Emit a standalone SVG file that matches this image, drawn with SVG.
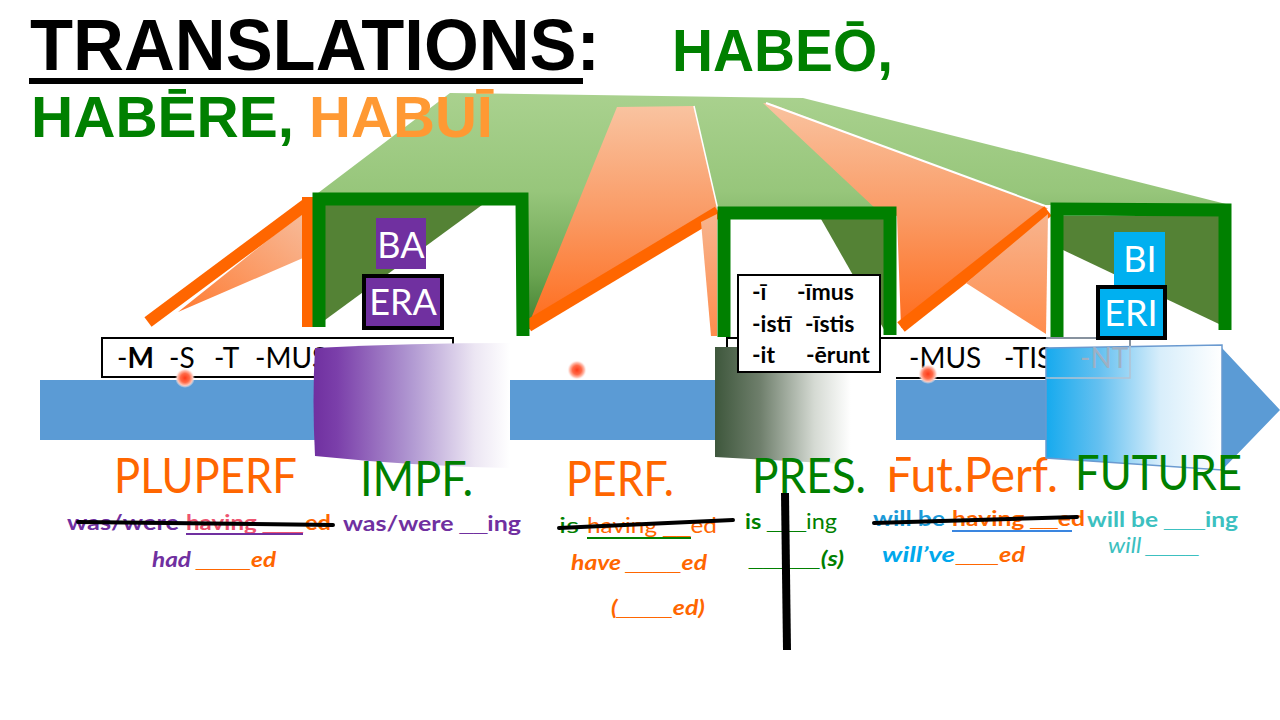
<svg xmlns="http://www.w3.org/2000/svg" width="1280" height="720" viewBox="0 0 1280 720">
<defs>
<linearGradient id="gGreen" gradientUnits="userSpaceOnUse" x1="0" y1="95" x2="0" y2="335">
<stop offset="0" stop-color="#a9d18e"/><stop offset="0.4" stop-color="#97c67b"/><stop offset="0.75" stop-color="#6aa451"/><stop offset="1" stop-color="#3b7a2b"/>
</linearGradient>
<linearGradient id="gFan" x1="0" y1="0" x2="0" y2="1">
<stop offset="0" stop-color="#f9c3a0"/><stop offset="0.5" stop-color="#fa9a64"/><stop offset="1" stop-color="#ff6c1c"/>
</linearGradient>
<linearGradient id="gWedge" x1="1" y1="0" x2="0" y2="1">
<stop offset="0" stop-color="#f7bb9a"/><stop offset="1" stop-color="#ff7b32"/>
</linearGradient>
<linearGradient id="gStrip" x1="0" y1="0" x2="0" y2="1">
<stop offset="0" stop-color="#f7b48e"/><stop offset="1" stop-color="#ff8d4d"/>
</linearGradient>
<linearGradient id="gPurple" x1="0" y1="0" x2="1" y2="0">
<stop offset="0" stop-color="#7030a0"/><stop offset="0.12" stop-color="#7b3faa"/><stop offset="0.5" stop-color="#b199d2"/><stop offset="0.82" stop-color="#ece6f3"/><stop offset="1" stop-color="#ffffff"/>
</linearGradient>
<linearGradient id="gPres" x1="0" y1="0" x2="1" y2="0">
<stop offset="0" stop-color="#3e573c"/><stop offset="0.25" stop-color="#6f7f6c"/><stop offset="0.55" stop-color="#d5dad3"/><stop offset="0.75" stop-color="#ffffff"/><stop offset="1" stop-color="#ffffff"/>
</linearGradient>
<linearGradient id="gFut" x1="0" y1="0" x2="1" y2="0">
<stop offset="0" stop-color="#16aaee"/><stop offset="0.3" stop-color="#64c0f0"/><stop offset="0.65" stop-color="#d8eefb"/><stop offset="1" stop-color="#ffffff"/>
</linearGradient>
<radialGradient id="gDot">
<stop offset="0" stop-color="#ff3a18"/><stop offset="0.45" stop-color="#ff6a48"/><stop offset="0.75" stop-color="#ffc4b6"/><stop offset="1" stop-color="#ffffff" stop-opacity="0"/>
</radialGradient>
</defs>
<style>
.t{font-family:Lato,'Liberation Sans',sans-serif}
.tt{font-family:'Liberation Sans',Arial,sans-serif;font-weight:bold}
.u{font-family:'Liberation Sans',Arial,sans-serif}
.b{font-weight:bold}
.i{font-style:italic}
.br{fill:none;stroke:#008000;stroke-width:13;stroke-linejoin:miter}
.ol{stroke:#ff6600;stroke-width:12;fill:none}
.dk{fill:#548235}
.strike{stroke:#000;stroke-width:4;stroke-linecap:round}
.box{fill:#fff;stroke:#000;stroke-width:2}
.lab{font-size:48px}
.sm{font-size:21px}
.end{font-size:28px;fill:#000}
.stem{font-size:36px;fill:#fff;text-anchor:middle}
.grn{fill:#008000}
.org{fill:#ff6600}
.pur{fill:#7030a0}
.tq{fill:#3cc0c0}
.lb{fill:#00a8ec}
</style>

<g id="ribbons">
<polygon points="318,193 450,93 803,98 1230,205 1050,205 893,210 717,210 528,330 528,193" fill="url(#gGreen)"/>
<polygon points="617,107 694,106 718,211 528,326" fill="url(#gFan)"/>
<line x1="694" y1="106" x2="718" y2="210" stroke="#fff" stroke-width="1.5"/>
<line class="ol" x1="528" y1="326" x2="718" y2="212" stroke-width="11"/>
<polygon points="701,222 717,214 717,336 711,336" fill="url(#gStrip)"/>
<polygon points="763,103 772,104 1048,208 901,328 897,216 877,210" fill="url(#gFan)"/>
<line x1="766" y1="103" x2="1048" y2="207" stroke="#fff" stroke-width="2"/>
<line class="ol" x1="901" y1="327" x2="1048" y2="211"/>
<polygon points="966,283 1048,214 1046,334" fill="url(#gStrip)"/>
<polygon points="178,312 303,212 303,258" fill="url(#gWedge)"/>
<line class="ol" x1="148" y1="322" x2="308" y2="203"/>
<rect x="302" y="197" width="12" height="130" fill="#ff6600"/>
</g>

<g id="brackets">
<polygon class="dk" points="325,205 482,205 325,320"/>
<polygon class="dk" points="821,219 886,219 886,333"/>
<polygon class="dk" points="1063,216 1219,216 1219,324 1063,250"/>
<path class="br" d="M319,327 V199 H522 L523,336"/>
<path class="br" d="M724,337 V213 H890 V335"/>
<path class="br" d="M1057,337 V209 L1225,210 V330"/>
</g>

<g id="title">
<text class="tt" x="30" y="70" font-size="72" textLength="570" lengthAdjust="spacingAndGlyphs" fill="#000">TRANSLATIONS:</text>
<rect x="29" y="78" width="554" height="6" fill="#000"/>
<text class="tt grn" x="672" y="71" font-size="59" textLength="221" lengthAdjust="spacingAndGlyphs">HABEŌ,</text>
<text class="tt grn" x="31" y="137" font-size="58" textLength="263" lengthAdjust="spacingAndGlyphs">HABĒRE,</text>
<text class="tt" x="309" y="137" font-size="58" textLength="184" lengthAdjust="spacingAndGlyphs" fill="#ff9933">HABUĪ</text>
</g>

<g id="timeline">
<path d="M40,380 H1222 V348 L1280,410 L1222,470 V440 H40 Z" fill="#5b9bd5"/>
<g id="endings-1">
<rect class="box" x="102" y="338" width="351" height="39"/>
<text class="t end" x="117" y="368">-<tspan class="b">M</tspan></text>
<text class="t end" x="169" y="368">-S</text>
<text class="t end" x="214" y="368">-T</text>
<text class="t end" x="255" y="368">-MUS</text>
</g>
<g id="endings-2">
<rect class="box" x="727" y="338" width="403" height="40"/>
<text class="t end" x="909" y="368">-MUS</text>
<text class="t end" x="1004" y="368">-TIS</text>
</g>
<circle cx="185" cy="378" r="10" fill="url(#gDot)"/>
<circle cx="577" cy="370" r="10" fill="url(#gDot)"/>
<circle cx="928" cy="374" r="10" fill="url(#gDot)"/>
<text id="label-futperf" class="t lab org" x="886" y="492" textLength="172" lengthAdjust="spacingAndGlyphs">Fut.Perf.</text>
<path d="M315,348 Q412,343 510,343 L510,468 Q412,466 315,456 Q312,400 315,348 Z" fill="url(#gPurple)"/>
<path d="M715,347 L896,347 L896,467 L715,457 Z" fill="url(#gPres)"/>
<path d="M1046,348 L1222,345 L1222,470 L1046,458 Z" fill="url(#gFut)" stroke="#6a9ad0" stroke-width="1.5"/>
<path d="M1046,338 H1130 V378 H1046" fill="none" stroke="#b4c2d2" stroke-width="1.5"/>
<text class="t end" x="1080" y="368" style="fill:#9eb0c4">-NT</text>
</g>

<g id="perfect-endings">
<rect class="box" x="738" y="275" width="142" height="97"/>
<g class="t b" font-size="23" fill="#000">
<text x="752" y="300">-ī</text><text x="797" y="300">-īmus</text>
<text x="752" y="332">-istī</text><text x="805" y="332">-īstis</text>
<text x="752" y="363">-it</text><text x="806" y="363">-ērunt</text>
</g>
</g>

<g id="stem-ba">
<rect x="376" y="218" width="50" height="51" fill="#7030a0"/>
<text class="t stem" x="401" y="258">BA</text>
</g>
<g id="stem-era">
<rect x="364" y="276" width="78" height="52" fill="#7030a0" stroke="#000" stroke-width="4"/>
<text class="t stem" x="403" y="315">ERA</text>
</g>
<g id="stem-bi">
<rect x="1114" y="232" width="51" height="53" fill="#00b0f0"/>
<text class="t stem" x="1140" y="272">BI</text>
</g>
<g id="stem-eri">
<rect x="1098" y="287" width="67" height="51" fill="#00b0f0" stroke="#000" stroke-width="4"/>
<text class="t stem" x="1131" y="326">ERI</text>
</g>

<g id="labels" class="t lab">
<text class="org" x="114" y="493" textLength="183" lengthAdjust="spacingAndGlyphs">PLUPERF</text>
<text class="grn" x="360" y="496" textLength="113" lengthAdjust="spacingAndGlyphs">IMPF.</text>
<text class="org" x="566" y="496" textLength="108" lengthAdjust="spacingAndGlyphs">PERF.</text>
<text class="grn" x="752" y="493" textLength="114" lengthAdjust="spacingAndGlyphs">PRES.</text>
<text class="grn" x="1075" y="490" textLength="167" lengthAdjust="spacingAndGlyphs">FUTURE</text>
</g>

<g id="translations" class="t sm">
<text class="b pur" x="67" y="530" textLength="112" lengthAdjust="spacingAndGlyphs">was/were</text>
<text class="b" x="186" y="530" textLength="117" lengthAdjust="spacingAndGlyphs" fill="#ee5470">having <tspan class="u">___</tspan></text>
<line x1="186" y1="534" x2="303" y2="534" stroke="#7030a0" stroke-width="2"/>
<text class="b org" x="305" y="530" textLength="26" lengthAdjust="spacingAndGlyphs">ed</text>
<line class="strike" x1="78" y1="522" x2="333" y2="525"/>
<text class="b pur" x="343" y="531" textLength="178" lengthAdjust="spacingAndGlyphs">was/were <tspan class="u">__</tspan>ing</text>
<text class="b i pur" x="152" y="567" textLength="39" lengthAdjust="spacingAndGlyphs">had</text>
<text class="b i org" x="197" y="567" textLength="79" lengthAdjust="spacingAndGlyphs"><tspan class="u">____</tspan>ed</text>

<text class="grn" x="559" y="533" textLength="20" lengthAdjust="spacingAndGlyphs">is</text>
<text class="org" x="587" y="533" textLength="130" lengthAdjust="spacingAndGlyphs">having <tspan class="u">__</tspan>ed</text>
<line x1="587" y1="538" x2="691" y2="538" stroke="#008000" stroke-width="2"/>
<line class="strike" x1="559" y1="528" x2="733" y2="520"/>
<text class="b i org" x="571" y="570" textLength="136" lengthAdjust="spacingAndGlyphs">have <tspan class="u">____</tspan>ed</text>
<text class="b i org" x="611" y="615" textLength="94" lengthAdjust="spacingAndGlyphs">(<tspan class="u">____</tspan>ed)</text>

<text class="grn" x="745" y="529" textLength="92" lengthAdjust="spacingAndGlyphs"><tspan class="b">is <tspan class="u">___</tspan></tspan>ing</text>
<text class="b i grn" x="750" y="566" textLength="94" lengthAdjust="spacingAndGlyphs"><tspan class="u">_____</tspan>(s)</text>
<line x1="785" y1="493" x2="787" y2="650" stroke="#000" stroke-width="8"/>

<text class="b" x="873" y="526" textLength="72" lengthAdjust="spacingAndGlyphs" fill="#1c9ad8">will be</text>
<text class="b org" x="952" y="526" textLength="133" lengthAdjust="spacingAndGlyphs">having <tspan class="u">__</tspan>ed</text>
<line x1="952" y1="531" x2="1072" y2="531" stroke="#3a86e0" stroke-width="2"/>
<line class="strike" x1="874" y1="523" x2="1077" y2="517"/>
<text class="b tq" x="1087" y="527" textLength="151" lengthAdjust="spacingAndGlyphs">will be <tspan class="u">___</tspan>ing</text>
<text class="i tq" x="1108" y="553" textLength="92" lengthAdjust="spacingAndGlyphs">will <tspan class="u">____</tspan></text>
<text class="b i lb" x="882" y="562" textLength="73" lengthAdjust="spacingAndGlyphs">will’ve</text>
<text class="b i org" x="957" y="562" textLength="68" lengthAdjust="spacingAndGlyphs"><tspan class="u">___</tspan>ed</text>
</g>
</svg>
